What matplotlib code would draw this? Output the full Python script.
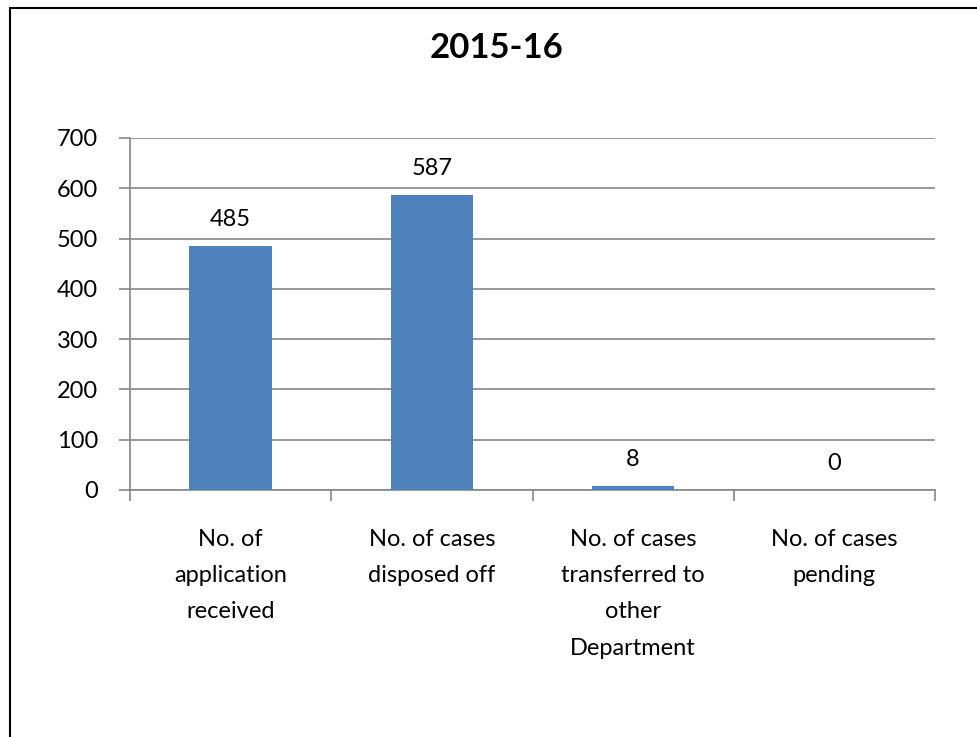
import matplotlib
matplotlib.use("Agg")
import matplotlib.pyplot as plt
from matplotlib.patches import Rectangle

categories = ["No. of\napplication\nreceived", "No. of cases\ndisposed off",
              "No. of cases\ntransferred to\nother\nDepartment", "No. of cases\npending"]
values = [485, 587, 8, 0]
yticks = [0, 100, 200, 300, 400, 500, 600, 700]
title = "2015-16"

plt.rcParams['font.family'] = ['Lato', 'DejaVu Sans']

fig = plt.figure(figsize=(9.77, 7.37), dpi=100)
fig.patches.append(Rectangle((10/977, -0.1), 1.2, 1.1 - 8/737, transform=fig.transFigure,
                             fill=False, edgecolor='black', linewidth=1.5))

ax = fig.add_axes([130/977, 1 - 490/737, 805/977, 352/737])
x = list(range(len(categories)))
ax.bar(x, values, width=0.41, color='#4F81BD', zorder=3)
for xi, v in zip(x, values):
    ax.text(xi, v + 32, str(v), ha='center', va='bottom', fontsize=17, color='black')

ax.set_xlim(-0.5, len(categories) - 0.5)
ax.set_ylim(0, 700)
ax.set_yticks(yticks)
ax.set_yticklabels([str(t) for t in yticks], fontsize=17)
ax.yaxis.grid(True, color='#868686', linewidth=1.2, zorder=0)
ax.set_axisbelow(True)

ax.set_xticks(x)
ax.set_xticklabels(categories, fontsize=17, linespacing=1.9, va='top')
ax.tick_params(axis='x', length=0, pad=28)
ax.set_xticks([i - 0.5 for i in range(len(categories) + 1)], minor=True)
ax.tick_params(axis='x', which='minor', length=8, color='#868686', width=1.2)
ax.tick_params(axis='y', length=8, color='#868686', width=1.2, pad=15)

for s in ['top', 'right']:
    ax.spines[s].set_visible(False)
for s in ['left', 'bottom']:
    ax.spines[s].set_color('#868686')
    ax.spines[s].set_linewidth(1.2)

fig.text(497/977, 1 - 48/737, title, ha='center', va='center', fontsize=25, fontweight='bold')

fig.savefig("out.png", dpi=100)
